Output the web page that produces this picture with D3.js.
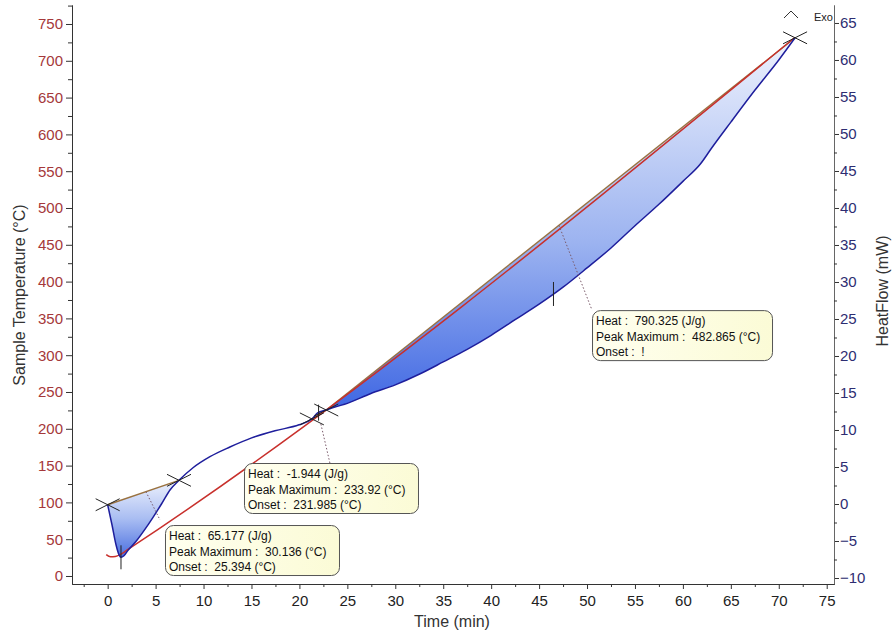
<!DOCTYPE html>
<html><head><meta charset="utf-8">
<script src="https://cdn.jsdelivr.net/npm/d3@7"></script>
<style>
body{margin:0;background:#fff;}
text{font-family:"Liberation Sans",Arial,sans-serif;}
</style></head>
<body>
<script>
// ---------- data ----------
const heatTime = [0.0,0.45,0.87,1.2,1.39,1.7,2.1,3.05,3.9,4.73,5.66,6.5,7.44,8.9,10.67,12.75,14.95,17.45,19.96,21.3,21.9,22.8,23.7,25.0,27.4,30.0,32.6,35.0,37.5,40.0,42.5,45.0,47.5,50.0,52.5,55.0,57.5,60.0,61.8,63.0,65.0,67.5,70.0,71.7];
const heatFlow = [-0.1,-2.8,-5.5,-6.9,-7.2,-7.0,-6.3,-4.9,-3.4,-1.8,0.1,1.9,3.2,4.9,6.4,7.7,8.9,9.9,10.7,11.5,12.3,12.7,13.1,13.6,14.9,16.1,17.6,19.2,20.9,22.8,24.9,27.0,29.3,31.9,34.6,37.6,40.5,43.6,45.9,48.1,51.6,55.9,60.0,63.0];
const tempTime = [-0.15,0.3,0.8,1.3,2.0,71.7];
const tempValue = [29,26,26.5,29,35,732];

const peakStart = [0.0, 21.3, 22.8];
const peakEnd   = [7.44, 22.8, 71.7];
const peakMax   = [1.39, 22.0, 46.5];

const labelHeat  = ["Heat :  65.177 (J/g)", "Heat :  -1.944 (J/g)", "Heat :  790.325 (J/g)"];
const labelPeak  = ["Peak Maximum :  30.136 (°C)", "Peak Maximum :  233.92 (°C)", "Peak Maximum :  482.865 (°C)"];
const labelOnset = ["Onset :  25.394 (°C)", "Onset :  231.985 (°C)", "Onset :  !"];
const boxTime  = [5.98, 14.22, 50.52];
const boxFlow  = [-2.84, 5.54, 26.2];
const leadFromTime = [3.99, 22.24, 47.07];
const leadFromFlow = [1.67, 10.8, 37.66];
const leadToTime   = [5.46, 23.18, 50.52];
const leadToFlow   = [-2.16, 5.54, 26.2];

const timeTicks = d3.range(0, 76, 5);
const timeMinor = d3.range(-2.5, 75, 5);
const tempTicks = d3.range(0, 751, 50);
const tempMinor = d3.range(25, 776, 50);
const flowTicks = d3.range(-10, 66, 5);
const flowMinor = d3.range(-7.5, 65, 5);

// ---------- layout ----------
const W = 894, H = 640;
const m = {l:72, r:60, t:5, b:56};
const svg = d3.select("body").append("svg").attr("width", W).attr("height", H);

const x  = d3.scaleLinear().domain([-3.72, 75.76]).range([m.l, W - m.r]);
const yT = d3.scaleLinear().domain([-10.87, 775.8]).range([H - m.b, m.t]);
const yH = d3.scaleLinear().domain([-10.81, 67.43]).range([H - m.b, m.t]);

const heat = heatTime.map((t,i)=>({t, v:heatFlow[i]}));
const temp = tempTime.map((t,i)=>({t, v:tempValue[i]}));
const bis = d3.bisector(d=>d.t).left;
function flowAt(t){
  const i = bis(heat, t);
  if (i <= 0) return heat[0].v;
  if (i >= heat.length) return heat[heat.length-1].v;
  const a = heat[i-1], b = heat[i];
  return a.v + (b.v - a.v) * (t - a.t) / (b.t - a.t);
}

const defs = svg.append("defs");
const g1 = defs.append("linearGradient").attr("id","g1").attr("x1",0).attr("y1",0).attr("x2",0).attr("y2",1);
g1.append("stop").attr("offset",0).attr("stop-color","#eef2fd");
g1.append("stop").attr("offset",0.5).attr("stop-color","#a9bdf2");
g1.append("stop").attr("offset",1).attr("stop-color","#4a6fe0");
const g3 = defs.append("linearGradient").attr("id","g3").attr("x1",0).attr("y1",0).attr("x2",0).attr("y2",1);
g3.append("stop").attr("offset",0).attr("stop-color","#eef2fd");
g3.append("stop").attr("offset",0.55).attr("stop-color","#9cb3f0");
g3.append("stop").attr("offset",1).attr("stop-color","#3f67e3");
const gb = defs.append("linearGradient").attr("id","gb").attr("x1",0).attr("y1",0).attr("x2",1).attr("y2",0);
gb.append("stop").attr("offset",0).attr("stop-color","#ffffef");
gb.append("stop").attr("offset",1).attr("stop-color","#fbfbd6");

const heatLine = d3.line().x(d=>x(d.t)).y(d=>yH(d.v)).curve(d3.curveMonotoneX);
const tempLine = d3.line().x(d=>x(d.t)).y(d=>yT(d.v)).curve(d3.curveMonotoneX);

// peak fills
const fills = ["url(#g1)", "url(#g1)", "url(#g3)"];
peakStart.forEach((s,i)=>{
  const seg = heat.filter(d=>d.t >= s - 1e-9 && d.t <= peakEnd[i] + 1e-9);
  svg.append("path").attr("d", heatLine(seg) + "Z").attr("fill", fills[i]).attr("stroke","none");
});

// baselines
peakStart.forEach((s,i)=>{
  svg.append("line")
    .attr("x1", x(s)).attr("y1", yH(flowAt(s)))
    .attr("x2", x(peakEnd[i])).attr("y2", yH(flowAt(peakEnd[i])))
    .attr("stroke","#9a7240").attr("stroke-width",1.4);
});

// temperature line
svg.append("path").attr("d", tempLine(temp)).attr("fill","none").attr("stroke","#c8302c").attr("stroke-width",1.5);

// heat flow curve
svg.append("path").attr("d", heatLine(heat)).attr("fill","none").attr("stroke","#1e1e9c").attr("stroke-width",1.5);

// markers
function cross(t){
  const cx = x(t), cy = yH(flowAt(t));
  svg.append("path").attr("d", `M${cx-12},${cy-6}L${cx+12},${cy+6}M${cx-12},${cy+6}L${cx+12},${cy-6}`)
    .attr("stroke","#222").attr("stroke-width",1).attr("fill","none");
}
const limits = Array.from(new Set(peakStart.concat(peakEnd)));
limits.forEach(cross);
peakMax.forEach((t,i)=>{
  const cx = x(t), cy = yH(flowAt(t));
  const h = i === 1 ? 8 : 12;
  svg.append("line").attr("x1",cx).attr("x2",cx).attr("y1",cy-h).attr("y2",cy+h)
    .attr("stroke","#222").attr("stroke-width",1);
});

// leaders
leadFromTime.forEach((t,i)=>{
  svg.append("line")
    .attr("x1", x(t)).attr("y1", yH(leadFromFlow[i]))
    .attr("x2", x(leadToTime[i])).attr("y2", yH(leadToFlow[i]))
    .attr("stroke","#7a5a6a").attr("stroke-width",1).attr("stroke-dasharray","1.5,2");
});

// annotation boxes
boxTime.forEach((t,i)=>{
  const bx = x(t), by = yH(boxFlow[i]);
  const g = svg.append("g").attr("transform",`translate(${bx},${by})`);
  const rect = g.append("rect").attr("rx",8).attr("ry",8)
    .attr("fill","url(#gb)").attr("stroke","#555").attr("stroke-width",1);
  const lines = [labelHeat[i], labelPeak[i], labelOnset[i]];
  let wmax = 0;
  lines.forEach((s,k)=>{
    const tx = g.append("text").attr("x",4).attr("y",15 + k*15.5)
      .attr("font-size","12px").attr("fill","#111").style("white-space","pre").text(s);
    wmax = Math.max(wmax, tx.node().getComputedTextLength());
  });
  rect.attr("x",0.5).attr("y",0.5).attr("width", Math.round(wmax + 16)).attr("height", 50);
});

// axes
const axColor = "#333";
function styleAxis(g, col){
  g.selectAll("path.domain").attr("stroke", axColor);
  g.selectAll(".tick line").attr("stroke", axColor);
  g.selectAll("text").attr("fill", col).attr("font-size","15px")
    .attr("font-family","'Liberation Sans',Arial,sans-serif");
}
const gl = svg.append("g").attr("transform",`translate(${m.l},0)`)
  .call(d3.axisLeft(yT).tickValues(tempTicks).tickSize(6).tickSizeOuter(0).tickPadding(3));
styleAxis(gl, "#a5383a");
const glm = svg.append("g").attr("transform",`translate(${m.l},0)`)
  .call(d3.axisLeft(yT).tickValues(tempMinor).tickSize(4).tickSizeOuter(0).tickFormat(""));
styleAxis(glm, "#a5383a");

const gr = svg.append("g").attr("transform",`translate(${W-m.r},0)`)
  .call(d3.axisRight(yH).tickValues(flowTicks).tickSize(5).tickSizeOuter(0).tickPadding(1));
styleAxis(gr, "#2d2d72");
gr.select("path.domain").attr("stroke","#666");
const grm = svg.append("g").attr("transform",`translate(${W-m.r},0)`)
  .call(d3.axisRight(yH).tickValues(flowMinor).tickSize(3).tickSizeOuter(0).tickFormat(""));
styleAxis(grm, "#2d2d72");
grm.select("path.domain").attr("stroke","#666");

const gx = svg.append("g").attr("transform",`translate(0,${H-m.b})`)
  .call(d3.axisBottom(x).tickValues(timeTicks).tickSize(5).tickSizeOuter(0).tickPadding(6));
styleAxis(gx, "#222");
const gxm = svg.append("g").attr("transform",`translate(0,${H-m.b})`)
  .call(d3.axisBottom(x).tickValues(timeMinor).tickSize(3).tickSizeOuter(0).tickFormat(""));
styleAxis(gxm, "#222");

// titles
svg.append("text").attr("transform","translate(25,295) rotate(-90)").attr("text-anchor","middle")
  .attr("font-size","16px").attr("fill","#333").text("Sample Temperature (°C)");
svg.append("text").attr("transform","translate(888,291) rotate(-90)").attr("text-anchor","middle")
  .attr("font-size","16px").attr("fill","#333").text("HeatFlow (mW)");
svg.append("text").attr("x",452).attr("y",627).attr("text-anchor","middle")
  .attr("font-size","16px").attr("fill","#333").text("Time (min)");

// Exo indicator
const ex = W - m.r - 50, ey = m.t + 13;
svg.append("path").attr("d",`M${ex},${ey}L${ex+7},${ey-7}L${ex+14},${ey}`).attr("fill","none").attr("stroke","#333").attr("stroke-width",1);
svg.append("text").attr("x", W - m.r - 1).attr("y", m.t + 16).attr("text-anchor","end")
  .attr("font-size","11px").attr("fill","#222").text("Exo");
</script>
</body></html>
